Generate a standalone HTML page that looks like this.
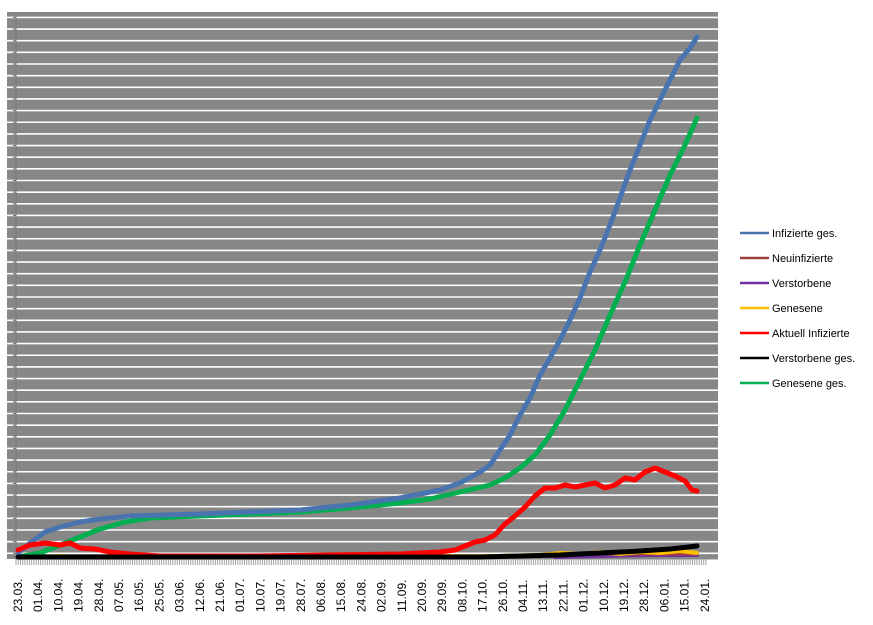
<!DOCTYPE html>
<html><head><meta charset="utf-8"><style>
body{margin:0;background:#fff;width:873px;height:625px;overflow:hidden}
svg{display:block;font-family:"Liberation Sans",sans-serif}
</style></head><body>
<svg width="873" height="625" viewBox="0 0 873 625">
<rect x="7" y="12" width="711" height="547" fill="#878787"/>
<g stroke="#fff" stroke-width="1.6" id="grid"></g>
<g id="yt" stroke="#6e6e6e" stroke-width="1"></g>
<line x1="16" y1="12" x2="16" y2="559" stroke="#777" stroke-width="1"/>
<line x1="16" y1="559" x2="718" y2="559" stroke="#888" stroke-width="1"/>
<g id="ticks" stroke="#a0a0a0" stroke-width="1"></g>
<g id="labels" font-size="12" fill="#000"></g>
<g fill="none" stroke-linejoin="round" stroke-linecap="round">
<polyline stroke="#7030a0" stroke-width="4" points="555,557 600,556 650,555 697,555"/>
<polyline stroke="#a0403c" stroke-width="3" points="480,556 520,555 560,555 600,554 650,554 697,554"/>
<polyline stroke="#ffc000" stroke-width="4" points="40,557 60,556 80,557 500,556 540,555 560,553 580,554 600,552 620,554 640,552 660,553 680,551 697,553"/>
<polyline stroke="#00b050" stroke-width="5" points="18,557 40,553 60,545 80,537 100,529 125,522 150,518 200,516 250,514 300,512 350,508 400,503 430,499 460,492 490,485 505,478 520,468 535,455 550,435 565,410 580,380 595,350 610,315 625,282 640,245 655,210 670,175 685,145 697,118"/>
<polyline stroke="#4a74b0" stroke-width="5" points="18,553 30,543 45,532 60,527 80,522 100,519 130,516 200,514 300,510 350,505 400,498 440,490 460,483 480,472 490,465 500,450 510,435 520,415 530,398 540,375 550,358 560,340 570,320 580,298 590,272 600,250 610,225 620,198 630,170 640,145 650,120 660,100 670,80 680,60 690,48 697,37"/>
<polyline stroke="#ff0000" stroke-width="5" points="18,550 30,545 45,543 60,545 70,543 80,548 95,549 110,552 130,554 160,556 250,556 400,554 440,552 455,550 465,546 475,542 485,540 495,535 505,524 515,516 525,507 535,496 545,488 555,488 565,485 575,487 585,485 595,483 605,488 615,485 625,478 635,480 645,472 655,468 665,472 675,476 685,481 692,490 697,491"/>
<polyline stroke="#000" stroke-width="5" points="18,557 480,557 520,556 560,555 600,553 640,551 670,549 697,546"/>
</g>
<g font-size="11" fill="#000">
<line x1="740" y1="233" x2="769" y2="233" stroke="#4a74b0" stroke-width="2.5"/><text x="772" y="237">Infizierte ges.</text>
<line x1="740" y1="258" x2="769" y2="258" stroke="#a0403c" stroke-width="2.5"/><text x="772" y="262">Neuinfizierte</text>
<line x1="740" y1="283" x2="769" y2="283" stroke="#7030a0" stroke-width="2.5"/><text x="772" y="287">Verstorbene</text>
<line x1="740" y1="308" x2="769" y2="308" stroke="#ffc000" stroke-width="2.5"/><text x="772" y="312">Genesene</text>
<line x1="740" y1="333" x2="769" y2="333" stroke="#ff0000" stroke-width="2.5"/><text x="772" y="337">Aktuell Infizierte</text>
<line x1="740" y1="358" x2="769" y2="358" stroke="#000" stroke-width="2.5"/><text x="772" y="362">Verstorbene ges.</text>
<line x1="740" y1="383" x2="769" y2="383" stroke="#00b050" stroke-width="2.5"/><text x="772" y="387">Genesene ges.</text>
</g>
</svg>
<script>
var ns="http://www.w3.org/2000/svg";
var g=document.getElementById("grid"),yt=document.getElementById("yt");
for(var k=0;k<=46;k++){var y=553.3-k*11.65;var l=document.createElementNS(ns,"line");l.setAttribute("x1",7);l.setAttribute("x2",718);l.setAttribute("y1",y);l.setAttribute("y2",y);g.appendChild(l);
var m=document.createElementNS(ns,"line");m.setAttribute("x1",13);m.setAttribute("x2",16);m.setAttribute("y1",y);m.setAttribute("y2",y);yt.appendChild(m);}
var t=document.getElementById("ticks");
for(var x=16;x<=706;x+=2.24){var l=document.createElementNS(ns,"line");l.setAttribute("x1",x);l.setAttribute("x2",x);l.setAttribute("y1",559);l.setAttribute("y2",565);t.appendChild(l);}
var labs="23.03. 01.04. 10.04. 19.04. 28.04. 07.05. 16.05. 25.05. 03.06. 12.06. 21.06. 01.07. 10.07. 19.07. 28.07. 06.08. 15.08. 24.08. 02.09. 11.09. 20.09. 29.09. 08.10. 17.10. 26.10. 04.11. 13.11. 22.11. 01.12. 10.12. 19.12. 28.12. 06.01. 15.01. 24.01.".split(" ");
var lg=document.getElementById("labels");
labs.forEach(function(s,i){var x=18+i*20.2+4;var e=document.createElementNS(ns,"text");e.setAttribute("transform","translate("+x+",612) rotate(-90)");e.textContent=s;lg.appendChild(e);});
</script>
</body></html>
